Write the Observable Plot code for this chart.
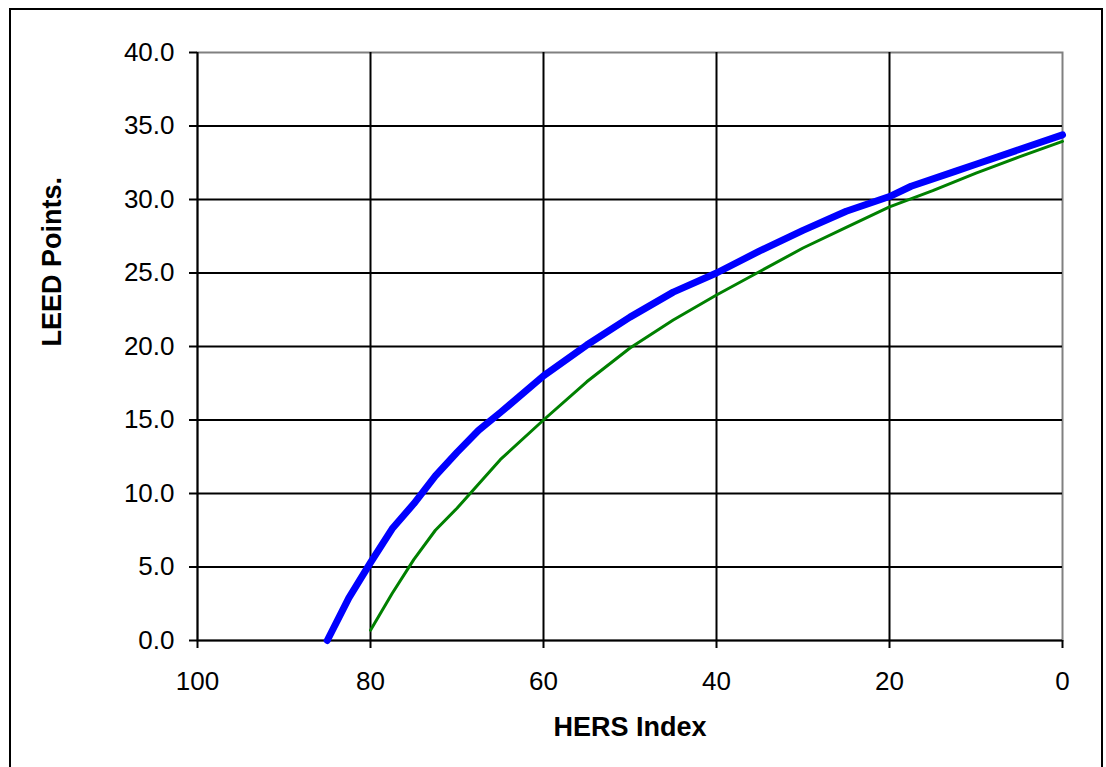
<!DOCTYPE html>
<html>
<head>
<meta charset="utf-8">
<script src="https://cdn.jsdelivr.net/npm/d3@7"></script>
<script src="https://cdn.jsdelivr.net/npm/@observablehq/plot@0.6"></script>
<style>
  html, body { margin: 0; padding: 0; background: #fff; }
  #wrap { position: relative; width: 1106px; height: 767px; overflow: hidden; }
  #border { position: absolute; left: 9px; top: 8px; width: 1094px; height: 800px; border: 2px solid #000; pointer-events: none; box-sizing: border-box; }
</style>
</head>
<body>
<div id="wrap"><div id="border"></div></div>
<script>
// Data
const hersBlue = [85, 82.5, 80, 77.5, 75, 72.5, 70, 67.5, 65, 60, 55, 50, 45, 40, 35, 30, 25, 20, 17.5, 12.5, 10, 5, 0];
const leedBlue = [0, 2.9, 5.3, 7.6, 9.3, 11.2, 12.8, 14.3, 15.5, 18.0, 20.1, 22.0, 23.7, 25.0, 26.5, 27.9, 29.2, 30.2, 30.9, 31.9, 32.4, 33.4, 34.4];
const hersGreen = [80, 77.5, 75, 72.5, 70, 65, 60, 55, 50, 45, 40, 35, 30, 25, 20, 15, 10, 5, 0];
const leedGreen = [0.7, 3.2, 5.5, 7.5, 9.0, 12.3, 15.0, 17.6, 19.9, 21.8, 23.5, 25.1, 26.7, 28.1, 29.5, 30.6, 31.8, 32.9, 33.95];
const xTicks = [100, 80, 60, 40, 20, 0];
const yTicks = [0, 5, 10, 15, 20, 25, 30, 35, 40];
const xLabel = "HERS Index";
const yLabel = "LEED Points.";

const blue = hersBlue.map((h, i) => ({h, v: leedBlue[i]}));
const green = hersGreen.map((h, i) => ({h, v: leedGreen[i]}));

const chart = Plot.plot({
  width: 1106,
  height: 767,
  marginLeft: 197,
  marginRight: 44,
  marginTop: 52,
  marginBottom: 127,
  style: {fontFamily: "'Liberation Sans', Arial, sans-serif", fontSize: "26px", background: "transparent", overflow: "visible"},
  x: {domain: [100, 0]},
  y: {domain: [0, 40]},
  marks: [
    Plot.frame({stroke: "#808080", strokeWidth: 2}),
    Plot.ruleY(yTicks.filter(d => d < 40), {stroke: "#000", strokeWidth: 2}),
    Plot.ruleX(xTicks.filter(d => d > 0), {stroke: "#000", strokeWidth: 2}),
    Plot.line(green, {x: "h", y: "v", stroke: "#008000", strokeWidth: 3}),
    Plot.line(blue, {x: "h", y: "v", stroke: "#0000FF", strokeWidth: 7}),
    Plot.axisY({ticks: yTicks, tickSize: 8, tickPadding: 15, tickFormat: d => d.toFixed(1), label: null, stroke: "#000", strokeWidth: 2, strokeOpacity: 1, fontSize: 26, fill: "#000"}),
    Plot.axisX({ticks: xTicks, tickSize: 8, tickPadding: 23, tickFormat: d => String(d), label: null, stroke: "#000", strokeWidth: 2, strokeOpacity: 1, fontSize: 26, fill: "#000"}),
    Plot.text([xLabel], {frameAnchor: "bottom", dy: 95, text: d => d, fontWeight: "bold", fontSize: 27, fill: "#000"}),
    Plot.text([yLabel], {frameAnchor: "left", dx: -145, rotate: -90, text: d => d, fontWeight: "bold", fontSize: 27, fill: "#000"})
  ]
});
chart.style.position = "absolute";
chart.style.left = "0";
chart.style.top = "0";
document.getElementById("wrap").insertBefore(chart, document.getElementById("border"));
</script>
</body>
</html>
